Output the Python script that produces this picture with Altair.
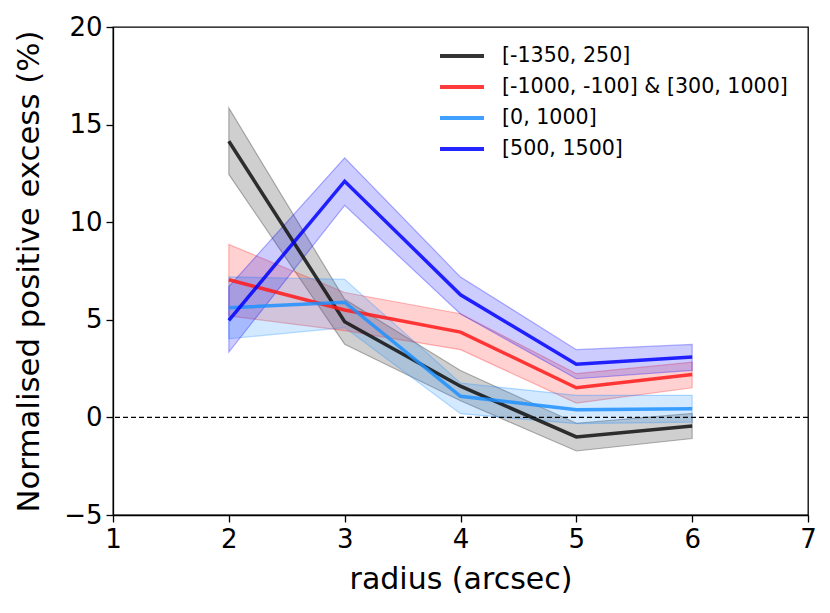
import altair as alt
import pandas as pd

radius = [2, 3, 4, 5, 6]
series_names = ["[-1350, 250]", "[-1000, -100] & [300, 1000]", "[0, 1000]", "[500, 1500]"]
colors = ["#111111", "#ff1a1a", "#1e90ff", "#0000ff"]

black_mid = [14.15, 4.9, 1.6, -1.0, -0.44]
black_lo = [12.45, 3.75, 0.85, -1.72, -1.08]
black_hi = [15.85, 6.05, 2.4, -0.3, 0.2]

red_mid = [7.05, 5.5, 4.37, 1.52, 2.2]
red_lo = [5.2, 4.45, 3.47, 0.73, 1.52]
red_hi = [8.86, 6.4, 5.31, 2.24, 2.83]

lblue_mid = [5.62, 5.9, 1.08, 0.39, 0.44]
lblue_lo = [4.03, 4.6, 0.19, -0.32, -0.24]
lblue_hi = [7.2, 7.07, 1.76, 1.13, 1.13]

blue_mid = [4.97, 12.1, 6.28, 2.72, 3.09]
blue_lo = [3.35, 10.86, 5.3, 1.98, 2.41]
blue_hi = [6.7, 13.3, 7.19, 3.47, 3.74]

mids = [black_mid, red_mid, lblue_mid, blue_mid]
los = [black_lo, red_lo, lblue_lo, blue_lo]
his = [black_hi, red_hi, lblue_hi, blue_hi]

rows = []
for i, name in enumerate(series_names):
    for j, r in enumerate(radius):
        rows.append({"radius": r, "series": name, "order": i,
                     "mid": mids[i][j], "lo": los[i][j], "hi": his[i][j]})
df = pd.DataFrame(rows)

color_scale = alt.Scale(domain=series_names, range=colors)
xscale = alt.Scale(domain=[1, 7], nice=False)
yscale = alt.Scale(domain=[-5, 20], nice=False)

legend = alt.Legend(title=None, orient="none", legendX=336, legendY=16,
                    symbolType="M-2,0H2", symbolSize=484, symbolStrokeWidth=4,
                    labelFontSize=20.6, labelFont="DejaVu Sans", labelColor="black",
                    labelLimit=500, rowPadding=7, labelOffset=27, symbolOpacity=0.85)

xaxis = alt.Axis(title="radius (arcsec)", values=[1, 2, 3, 4, 5, 6, 7], format="d", labelFlush=False)
yaxis = alt.Axis(title="Normalised positive excess (%)", values=[-5, 0, 5, 10, 15, 20], format="d",
                 labelFlush=False)

base = alt.Chart(df)

bands = base.mark_area(fillOpacity=0.2, strokeOpacity=0.3, strokeWidth=1.2).encode(
    x=alt.X("radius:Q", scale=xscale, axis=xaxis),
    y=alt.Y("lo:Q", scale=yscale, axis=yaxis),
    y2="hi:Q",
    color=alt.Color("series:N", scale=color_scale, legend=legend),
    stroke=alt.Stroke("series:N", scale=color_scale, legend=None),
    detail="series:N",
)

lines = base.mark_line(strokeWidth=3.5, opacity=0.85).encode(
    x=alt.X("radius:Q", scale=xscale, axis=xaxis),
    y=alt.Y("mid:Q", scale=yscale, axis=yaxis),
    color=alt.Color("series:N", scale=color_scale, legend=legend),
    order="order:Q",
)

zero = alt.Chart(pd.DataFrame({"y0": [0]})).mark_rule(
    color="black", strokeDash=[5, 3], strokeWidth=1.3
).encode(y=alt.Y("y0:Q", scale=yscale))

chart = alt.layer(bands, zero, lines).properties(
    width=695, height=488,
    autosize=alt.AutoSizeParams(type="none"),
    padding={"left": 105, "top": 19, "right": 14, "bottom": 90},
).configure_view(
    stroke="black", strokeWidth=1.3
).configure_axis(
    grid=False, domainColor="black", domainWidth=1.3, tickColor="black", tickWidth=1.3,
    tickSize=7, labelFontSize=26, titleFontSize=30, labelFont="DejaVu Sans", titleFont="DejaVu Sans",
    labelColor="black", titleColor="black", titleFontWeight="normal", labelPadding=4,
).configure_axisX(titlePadding=12).configure_axisY(titlePadding=19, titleFontSize=30.8)

chart.save("out.html", embed_options={"renderer": "svg", "actions": False})
